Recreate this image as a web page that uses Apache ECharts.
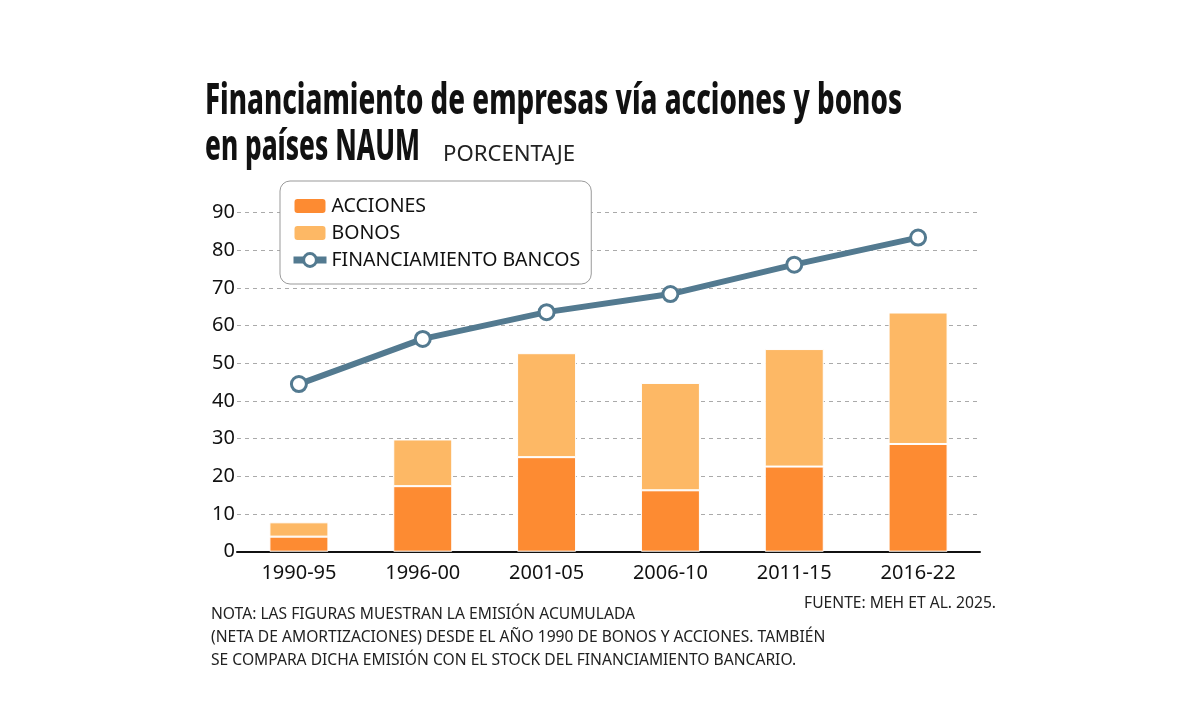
<!DOCTYPE html>
<html><head><meta charset="utf-8">
<script src="https://cdn.jsdelivr.net/npm/echarts@6/dist/echarts.min.js"></script>
<style>html,body{margin:0;padding:0;background:#fff}#c{width:1200px;height:723px}</style>
</head><body><div id="c"></div>
<script>
const categories = ['1990-95','1996-00','2001-05','2006-10','2011-15','2016-22'];
const acciones = [4.0, 17.4, 25.1, 16.3, 22.6, 28.6];
const bonos = [3.8, 12.4, 27.6, 28.5, 31.2, 34.9];
const bancos = [44.5, 56.5, 63.6, 68.4, 76.2, 83.4];
const titleLine1 = 'Financiamiento de empresas vía acciones y bonos';
const titleLine2 = 'en países NAUM';
const unitText = 'PORCENTAJE';
const notes = ['NOTA: LAS FIGURAS MUESTRAN LA EMISIÓN ACUMULADA',
  '(NETA DE AMORTIZACIONES) DESDE EL AÑO 1990 DE BONOS Y ACCIONES. TAMBIÉN',
  'SE COMPARA DICHA EMISIÓN CON EL STOCK DEL FINANCIAMIENTO BANCARIO.'];
const sourceText = 'FUENTE: MEH ET AL. 2025.';

const cv = document.createElement('canvas').getContext('2d');
function fitScale(text, font, w){ cv.font = font; return w / cv.measureText(text).width; }

const titleFont = '800 42px "Noto Sans"';
const tScale = fitScale(titleLine1, titleFont, 697);
const tScale2 = fitScale(titleLine2, titleFont, 215);
const unitFont = '21px "Noto Sans"';
const uScale = fitScale(unitText, unitFont, 132);
const noteFont = '16px "Noto Sans"';
const nScale = fitScale(notes[0], noteFont, 424);

const chart = echarts.init(document.getElementById('c'));
const graphic = [
  {type:'text', x:205, y:102, scaleX:tScale, originX:0, style:{text:titleLine1, font:titleFont, fill:'#111', textVerticalAlign:'middle'}},
  {type:'text', x:205, y:148, scaleX:tScale2, originX:0, style:{text:titleLine2, font:titleFont, fill:'#111', textVerticalAlign:'middle'}},
  {type:'text', x:443, y:155, scaleX:uScale, originX:0, style:{text:unitText, font:unitFont, fill:'#222', textVerticalAlign:'middle'}},
  {type:'text', x:996, y:603, scaleX:nScale, originX:0, style:{text:sourceText, font:noteFont, fill:'#222', textAlign:'right', textVerticalAlign:'middle'}}
];
notes.forEach((t,i)=>graphic.push({type:'text', x:211, y:614+i*23, scaleX:nScale, originX:0, style:{text:t, font:noteFont, fill:'#222', textVerticalAlign:'middle'}}));

chart.setOption({
  animation:false,
  textStyle:{fontFamily:'"Noto Sans"'},
  grid:{left:237, right:220, top:212.7, bottom:171.3},
  legend:{
    orient:'vertical', left:280, top:181,
    padding:[15,11,14,10], itemWidth:33, itemHeight:16, itemGap:7,
    backgroundColor:'#fff', borderColor:'#999', borderWidth:1, borderRadius:10,
    textStyle:{fontSize:19.5, color:'#111', fontFamily:'"Noto Sans"', lineHeight:20},
    data:['ACCIONES','BONOS',{name:'FINANCIAMIENTO BANCOS', lineStyle:{width:7}, itemStyle:{borderWidth:3}}]
  },
  xAxis:{type:'category', data:categories,
    axisLine:{lineStyle:{color:'#111', width:2}}, axisTick:{show:false},
    axisLabel:{fontSize:20, color:'#111', margin:12}},
  yAxis:{type:'value', min:0, max:90, interval:10,
    axisLine:{show:false}, axisTick:{show:false},
    axisLabel:{fontSize:20, color:'#111', margin:2},
    splitLine:{lineStyle:{color:'#aaa', type:[4,4], width:1}}},
  series:[
    {name:'ACCIONES', type:'bar', stack:'a', data:acciones, barWidth:59,
      itemStyle:{color:'#FD8B32', borderColor:'#fff', borderWidth:1}},
    {name:'BONOS', type:'bar', stack:'a', data:bonos, barWidth:59,
      itemStyle:{color:'#FDB865', borderColor:'#fff', borderWidth:1}},
    {name:'FINANCIAMIENTO BANCOS', type:'line', data:bancos, z:5,
      lineStyle:{color:'#537A90', width:6}, itemStyle:{color:'#fff', borderColor:'#537A90', borderWidth:3},
      symbol:'circle', symbolSize:15, showAllSymbol:true}
  ],
  graphic: graphic
});
</script></body></html>
